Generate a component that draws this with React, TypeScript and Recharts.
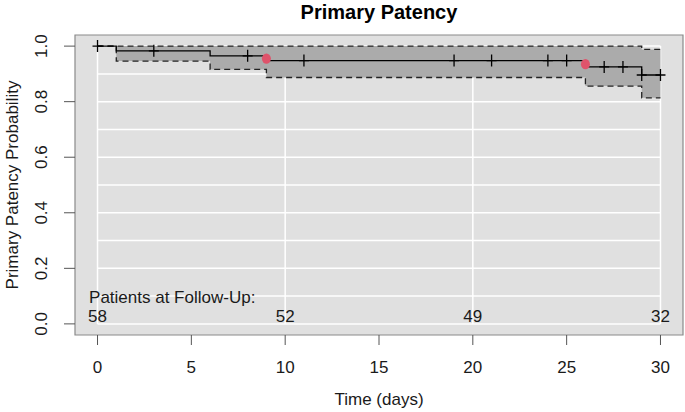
import React from 'react';
import {
  ComposedChart,
  XAxis,
  YAxis,
  Area,
  Line,
  Scatter,
  ReferenceArea,
  ReferenceLine,
} from 'recharts';

// ---- data ----
const kmTimes = [0, 1, 6, 9, 26, 29, 30];
const kmSurv = [1.0, 0.983, 0.965, 0.948, 0.925, 0.896, 0.896];
const ciUpper = [1.0, 1.0, 1.0, 1.0, 1.0, 0.988, 0.988];
const ciLower = [1.0, 0.946, 0.916, 0.887, 0.856, 0.814, 0.814];

const censorTimes = [0, 3, 8, 11, 19, 21, 24, 25, 27, 28, 29, 30];
const censorSurv = [1.0, 0.983, 0.965, 0.948, 0.948, 0.948, 0.948, 0.948, 0.925, 0.925, 0.896, 0.896];

const eventTimes = [9, 26];
const eventSurv = [0.955, 0.935];

const atRiskTimes = [0, 10, 20, 30];
const atRiskCounts = [58, 52, 49, 32];
const atRiskTitle = 'Patients at Follow-Up:';

const xTicks = [0, 5, 10, 15, 20, 25, 30];
const yTicks = [0, 0.2, 0.4, 0.6, 0.8, 1.0];
const gridX = [0, 10, 20, 30];
const gridY = [0, 0.1, 0.2, 0.3, 0.4, 0.5, 0.6, 0.7, 0.8, 0.9, 1.0];

const xDomain: [number, number] = [-1.2, 31.2];
const yDomain: [number, number] = [-0.04, 1.04];

// ---- derived tables ----
const kmData = kmTimes.map((t, i) => ({ t, s: kmSurv[i], hi: ciUpper[i], lo: ciLower[i], band: [ciLower[i], ciUpper[i]] }));
const censorData = censorTimes.map((t, i) => ({ t, y: censorSurv[i] }));
const eventData = eventTimes.map((t, i) => ({ t, y: eventSurv[i] }));
const AT_RISK_Y = 0.027;
const AT_RISK_TITLE_Y = 0.094;
const atRiskData = atRiskTimes.map((t, i) => ({ t, y: AT_RISK_Y, n: atRiskCounts[i] }));
const atRiskTitleData = [{ t: -0.45, y: AT_RISK_TITLE_Y, label: atRiskTitle }];

const FONT = '"Liberation Sans", Arial, Helvetica, sans-serif';
const TXT = '#1a1a1a';

const XTick = (props: any) => {
  const { x, y, payload } = props;
  return (
    <text x={x} y={y + 26} textAnchor="middle" fontSize={17} fontFamily={FONT} fill={TXT}>
      {payload.value}
    </text>
  );
};

const YTick = (props: any) => {
  const { x, y, payload } = props;
  const bx = x - 15;
  return (
    <text
      x={bx}
      y={y}
      textAnchor="middle"
      fontSize={17}
      fontFamily={FONT}
      fill={TXT}
      transform={`rotate(-90, ${bx}, ${y})`}
    >
      {Number(payload.value).toFixed(1)}
    </text>
  );
};

const CensorMark = (props: any) => {
  const { cx, cy } = props;
  if (cx == null || cy == null) return null;
  return (
    <path
      d={`M${cx - 5},${cy}H${cx + 5}M${cx},${cy - 6}V${cy + 6}`}
      stroke="#000"
      strokeWidth={1.3}
      fill="none"
    />
  );
};

const EventDot = (props: any) => {
  const { cx, cy } = props;
  if (cx == null || cy == null) return null;
  return <ellipse cx={cx} cy={cy} rx={4.5} ry={5.2} fill="#DF536B" />;
};

const AtRiskText = (props: any) => {
  const { cx, cy, payload } = props;
  if (cx == null || cy == null) return null;
  return (
    <text x={cx} y={cy + 6} textAnchor="middle" fontSize={17} fontFamily={FONT} fill={TXT}>
      {payload.n}
    </text>
  );
};

const AtRiskTitle = (props: any) => {
  const { cx, cy, payload } = props;
  if (cx == null || cy == null) return null;
  return (
    <text x={cx} y={cy + 5} textAnchor="start" fontSize={17} fontFamily={FONT} fill={TXT}>
      {payload.label}
    </text>
  );
};

const XTitle = () => (
  <text x={379} y={405} textAnchor="middle" fontSize={17} fontFamily={FONT} fill={TXT}>
    Time (days)
  </text>
);

const YTitle = () => (
  <text
    x={18}
    y={185}
    textAnchor="middle"
    fontSize={17}
    fontFamily={FONT}
    fill={TXT}
    transform="rotate(-90, 18, 185)"
  >
    Primary Patency Probability
  </text>
);

export default function App() {
  return (
    <div style={{ position: 'absolute', left: 0, top: 0, width: 685, height: 412, background: '#fff' }}>
      <div
        style={{
          position: 'absolute',
          left: 75,
          top: 0,
          width: 608,
          textAlign: 'center',
          fontFamily: FONT,
          fontWeight: 'bold',
          fontSize: 20,
          lineHeight: '24px',
          color: '#000',
        }}
      >
        Primary Patency
      </div>
      <ComposedChart
        width={685}
        height={412}
        margin={{ top: 35, right: 2, bottom: 0, left: 0 }}
        style={{ position: 'absolute', left: 0, top: 0 }}
      >
        <XAxis
          type="number"
          dataKey="t"
          domain={xDomain}
          ticks={xTicks}
          allowDataOverflow
          axisLine={false}
          tickLine={{ stroke: '#555' }}
          tickSize={10}
          height={77}
          tick={<XTick />}
          label={<XTitle />}
        />
        <YAxis
          type="number"
          dataKey="y"
          domain={yDomain}
          ticks={yTicks}
          allowDataOverflow
          axisLine={false}
          tickLine={{ stroke: '#555' }}
          tickSize={11}
          width={75}
          tick={<YTick />}
          label={<YTitle />}
        />
        <ReferenceArea
          x1={xDomain[0]}
          x2={xDomain[1]}
          y1={yDomain[0]}
          y2={yDomain[1]}
          fill="#E0E0E0"
          fillOpacity={1}
          stroke="#8a8a8a"
          strokeWidth={1.2}
          zIndex={-150}
        />
        {gridY.map((v) => (
          <ReferenceLine
            key={`gy${v}`}
            segment={[{ x: gridX[0], y: v }, { x: gridX[gridX.length - 1], y: v }]}
            stroke="#ffffff"
            strokeWidth={1.5}
            zIndex={-120}
          />
        ))}
        {gridX.map((v) => (
          <ReferenceLine
            key={`gx${v}`}
            segment={[{ x: v, y: gridY[0] }, { x: v, y: gridY[gridY.length - 1] }]}
            stroke="#ffffff"
            strokeWidth={1.5}
            zIndex={-120}
          />
        ))}
        <Area
          data={kmData}
          dataKey="band"
          type="stepAfter"
          fill="#ABABAB"
          fillOpacity={1}
          stroke="none"
          isAnimationActive={false}
          activeDot={false}
          dot={false}
        />
        <Line
          data={kmData}
          dataKey="hi"
          type="stepAfter"
          stroke="#222"
          strokeWidth={1.3}
          strokeDasharray="6 4"
          dot={false}
          activeDot={false}
          isAnimationActive={false}
        />
        <Line
          data={kmData}
          dataKey="lo"
          type="stepAfter"
          stroke="#222"
          strokeWidth={1.3}
          strokeDasharray="6 4"
          dot={false}
          activeDot={false}
          isAnimationActive={false}
        />
        <Line
          data={kmData}
          dataKey="s"
          type="stepAfter"
          stroke="#000"
          strokeWidth={1.3}
          dot={false}
          activeDot={false}
          isAnimationActive={false}
        />
        <Scatter data={censorData} shape={<CensorMark />} isAnimationActive={false} />
        <Scatter data={eventData} shape={<EventDot />} isAnimationActive={false} />
        <Scatter data={atRiskData} shape={<AtRiskText />} isAnimationActive={false} />
        <Scatter data={atRiskTitleData} shape={<AtRiskTitle />} isAnimationActive={false} />
      </ComposedChart>
    </div>
  );
}
